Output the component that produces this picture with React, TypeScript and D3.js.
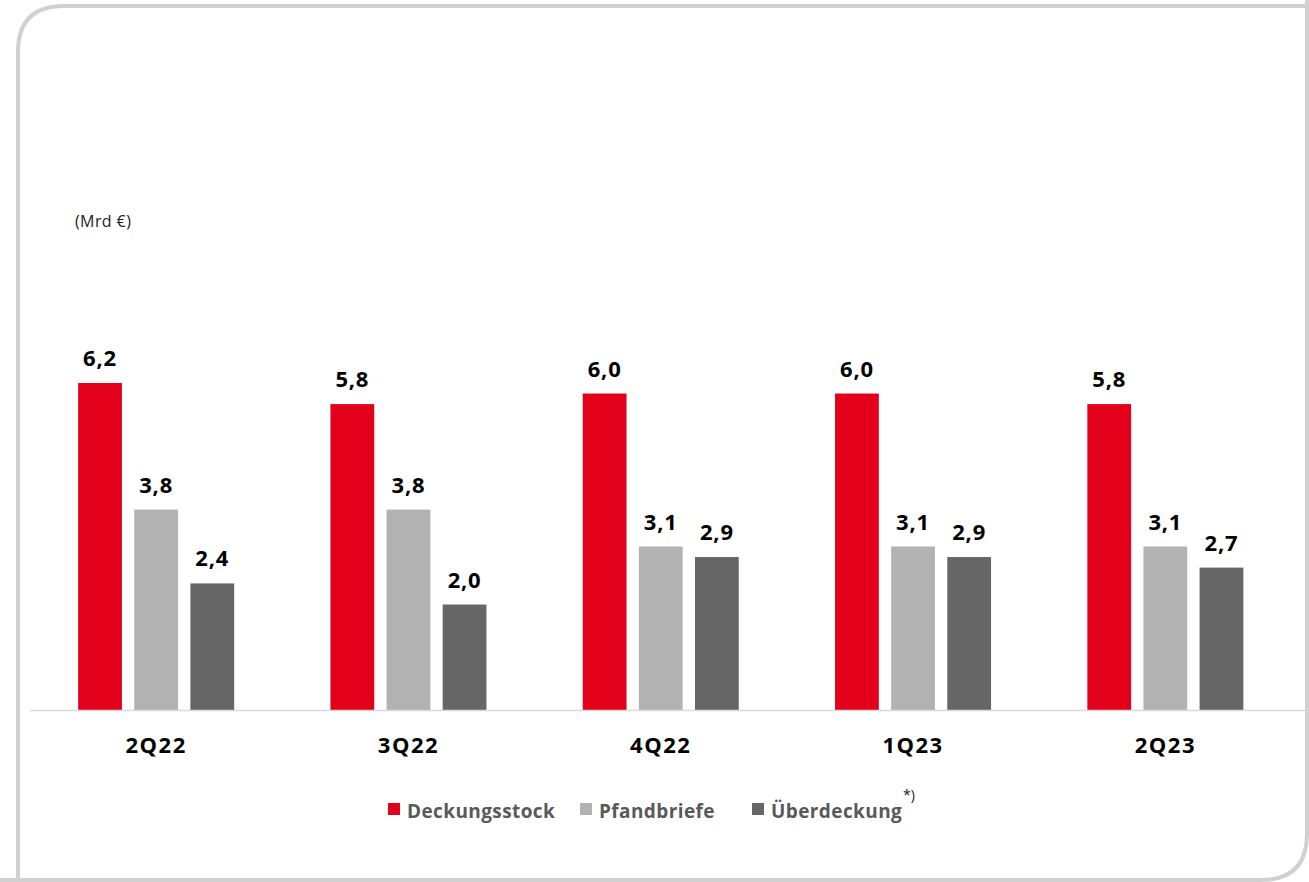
import React from "react";
import * as d3 from "d3";

const quarters = ["2Q22", "3Q22", "4Q22", "1Q23", "2Q23"];
const seriesNames = ["Deckungsstock", "Pfandbriefe", "Überdeckung"];
const deckungsstock = [6.2, 5.8, 6.0, 6.0, 5.8];
const pfandbriefe = [3.8, 3.8, 3.1, 3.1, 3.1];
const ueberdeckung = [2.4, 2.0, 2.9, 2.9, 2.7];
const colors = ["#e2001a", "#b2b2b2", "#666666"];

const width = 1309;
const height = 882;
const baseY = 710;
const font = "'Open Sans', 'DejaVu Sans', sans-serif";

function App() {
  const values = [deckungsstock, pfandbriefe, ueberdeckung];

  const x0 = d3.scaleBand().domain(quarters).range([30, 1291.5]).paddingInner(0).paddingOuter(0);
  const x1 = d3.scaleBand().domain(seriesNames).range([x0.bandwidth() / 2 - 78, x0.bandwidth() / 2 + 78])
    .paddingInner(0.22).paddingOuter(0);
  const y = d3.scaleLinear().domain([0, 6.2]).range([baseY, 383]);
  const fmt = (v: number) => d3.format(".1f")(v).replace(".", ",");

  // only top-left and bottom-right corners are rounded
  const r = 46;
  const L = 18, T = 6, R = 1307, B = 880;
  const frame = `M${L},${B + 20} L${L},${T + r} Q${L},${T} ${L + r},${T} L${R + 20},${T}
    M${R},${T - 20} L${R},${B - r} Q${R},${B} ${R - r},${B} L${L - 20},${B}`;

  const legendX = [388, 580, 752];

  return (
    <svg width={width} height={height} style={{ position: "absolute", left: 0, top: 0, fontFamily: font }}>
      <rect width={width} height={height} fill="#fff" />
      <path d={frame} fill="none" stroke="#d0d0d0" strokeWidth={4} />
      <text x={75} y={227} fontSize={16} letterSpacing={0.4} fill="#222">(Mrd €)</text>

      {quarters.map((q, i) => (
        <g key={q} transform={`translate(${x0(q)},0)`}>
          {seriesNames.map((s, j) => {
            const v = values[j][i];
            const bx = x1(s)!;
            return (
              <g key={s}>
                <rect x={bx} y={y(v)} width={x1.bandwidth()} height={baseY - y(v)} fill={colors[j]} />
                <text x={bx + x1.bandwidth() / 2} y={y(v) - 17} textAnchor="middle"
                  fontSize={22} fontWeight="bold" letterSpacing={0.8} fill="#000">{fmt(v)}</text>
              </g>
            );
          })}
          <text x={x0.bandwidth() / 2} y={753} textAnchor="middle" fontSize={22} fontWeight="bold"
            letterSpacing={1.5} fill="#000">{q}</text>
        </g>
      ))}

      <line x1={30} x2={width} y1={baseY + 0.5} y2={baseY + 0.5} stroke="#d9d9d9" strokeWidth={1.5} />

      {seriesNames.map((s, j) => (
        <g key={s} transform={`translate(${legendX[j]},0)`}>
          <rect x={0} y={803} width={12} height={12} fill={colors[j]} />
          <text x={19} y={818} fontSize={19} fontWeight="bold" letterSpacing={0.4} fill="#595959">{s}</text>
        </g>
      ))}
      <text x={903} y={800} fontSize={14} fill="#222">*)</text>
    </svg>
  );
}

export default App;
